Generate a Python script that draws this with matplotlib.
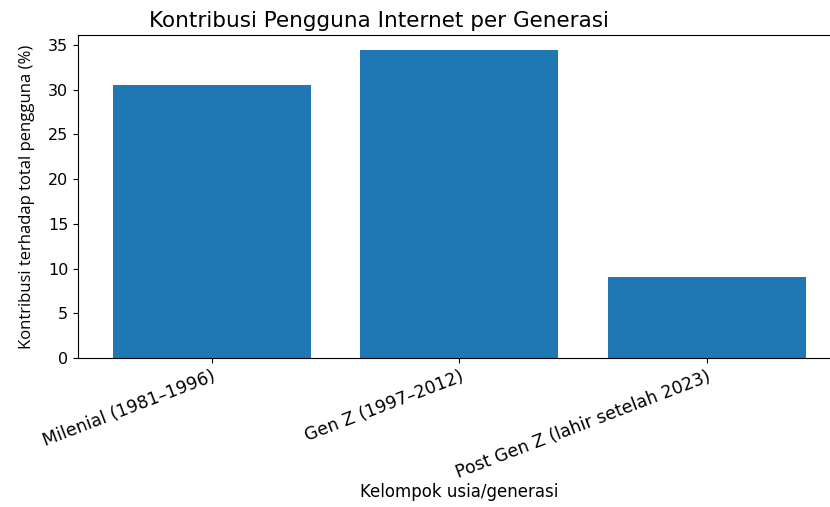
import matplotlib
matplotlib.use('Agg')
import matplotlib.pyplot as plt

# data
generasi = ['Milenial (1981–1996)', 'Gen Z (1997–2012)', 'Post Gen Z (lahir setelah 2023)']
kontribusi = [30.5, 34.4, 9.1]

fig = plt.figure(figsize=(8.3, 5.07), dpi=100)
ax = fig.add_axes([0.094, 0.294, 0.919, 0.637])
ax.bar(generasi, kontribusi, color='#1f77b4', width=0.8)

ax.set_title('Kontribusi Pengguna Internet per Generasi', fontsize=15.5, x=0.394, pad=6)
ax.set_xlabel('Kelompok usia/generasi', fontsize=12, labelpad=1)
ax.set_ylabel('Kontribusi terhadap total pengguna (%)', fontsize=12,
              family=['Open Sans', 'DejaVu Sans'], labelpad=9)
ax.tick_params(axis='y', labelsize=11.5)
ax.tick_params(axis='x', labelsize=12.5)
plt.setp(ax.get_xticklabels(), rotation=21, ha='right', rotation_mode='anchor')

fig.savefig('out.png', dpi=100)
